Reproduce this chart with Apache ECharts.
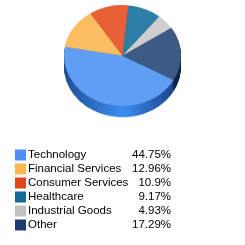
<!DOCTYPE html>
<html>
<head>
<meta charset="UTF-8" />
<title>sector pie</title>
<style>
  * { margin: 0; padding: 0; }
  body { width: 245px; height: 245px; background: #fff; position: relative; overflow: hidden; }
  #legend { position: absolute; left: 0; top: 0; width: 245px; height: 245px; }
  /* pie is drawn round and squashed a bit to look tilted */
  #pie { position: absolute; left: 0; top: 0; width: 245px; height: 145px; transform: scaleY(0.862); transform-origin: 0 0; }
</style>
</head>
<body>
<div id="legend"></div>
<div id="pie"></div>
<script src="https://cdn.jsdelivr.net/npm/echarts@6/dist/echarts.min.js"></script>
<script>
var sectors = ['Technology', 'Financial Services', 'Consumer Services', 'Healthcare', 'Industrial Goods', 'Other'];
var weights = [44.75, 12.96, 10.9, 9.17, 4.93, 17.29];
var pctLabels = ['44.75%', '12.96%', '10.9%', '9.17%', '4.93%', '17.29%'];

var topColors = ['#5f9ef2', '#fdbd62', '#e86035', '#2e7fa8', '#cfcfcf', '#3d5a85'];
var legendColors = ['#4f8ff5', '#fdb54d', '#e04618', '#106a9a', '#c0c0c0', '#1e3a6e'];
var sideColors = [
  { type: 'linear', x: 0, y: 0, x2: 1, y2: 0, colorStops: [
    { offset: 0, color: '#1f4d94' }, { offset: 0.53, color: '#3b8ef2' }, { offset: 1, color: '#1c468a' }] },
  '#a5792f', '#9a3a1a', '#1b4f6a', '#8a8a8a', '#0f2445'
];

var cx = 122.5, cy = 64.4, r = 58.5, depth = 13;

function pieData(colors) {
  return sectors.map(function (n, i) {
    return { name: n, value: weights[i], itemStyle: { color: colors[i] } };
  });
}

var series = [];
// side of the disc: stack of darker copies below the top face
for (var k = depth; k >= 1; k--) {
  series.push({
    type: 'pie', silent: true, animation: false,
    center: [cx, cy + k], radius: [0, r],
    startAngle: -29, label: { show: false }, labelLine: { show: false },
    z: 1, data: pieData(sideColors)
  });
}
series.push({
  type: 'pie', silent: true, animation: false,
  center: [cx, cy], radius: [0, r],
  startAngle: -29, label: { show: false }, labelLine: { show: false },
  z: 2, data: pieData(topColors)
});

var pieChart = echarts.init(document.getElementById('pie'));
pieChart.setOption({ series: series });

var legendChart = echarts.init(document.getElementById('legend'));
legendChart.setOption({
  legend: {
    orient: 'vertical', left: 15, top: 149, height: 96, padding: 0,
    itemWidth: 11, itemHeight: 11, itemGap: 2, icon: 'rect',
    selectedMode: false,
    textStyle: {
      fontFamily: 'Liberation Sans', fontSize: 11.5, color: '#000', padding: [0, 0, 0, -3],
      rich: {
        n: { fontFamily: 'Liberation Sans', fontSize: 11.5, width: 101, lineHeight: 11 },
        v: { fontFamily: 'Liberation Sans', fontSize: 11.5, width: 42, align: 'right', lineHeight: 11 }
      }
    },
    formatter: function (name) {
      return '{n|' + name + '}{v|' + pctLabels[sectors.indexOf(name)] + '}';
    },
    data: sectors
  },
  series: [{
    type: 'pie', radius: [0, 0], center: [-50, -50], silent: true, animation: false,
    label: { show: false }, labelLine: { show: false },
    data: pieData(legendColors)
  }]
});
</script>
</body>
</html>
